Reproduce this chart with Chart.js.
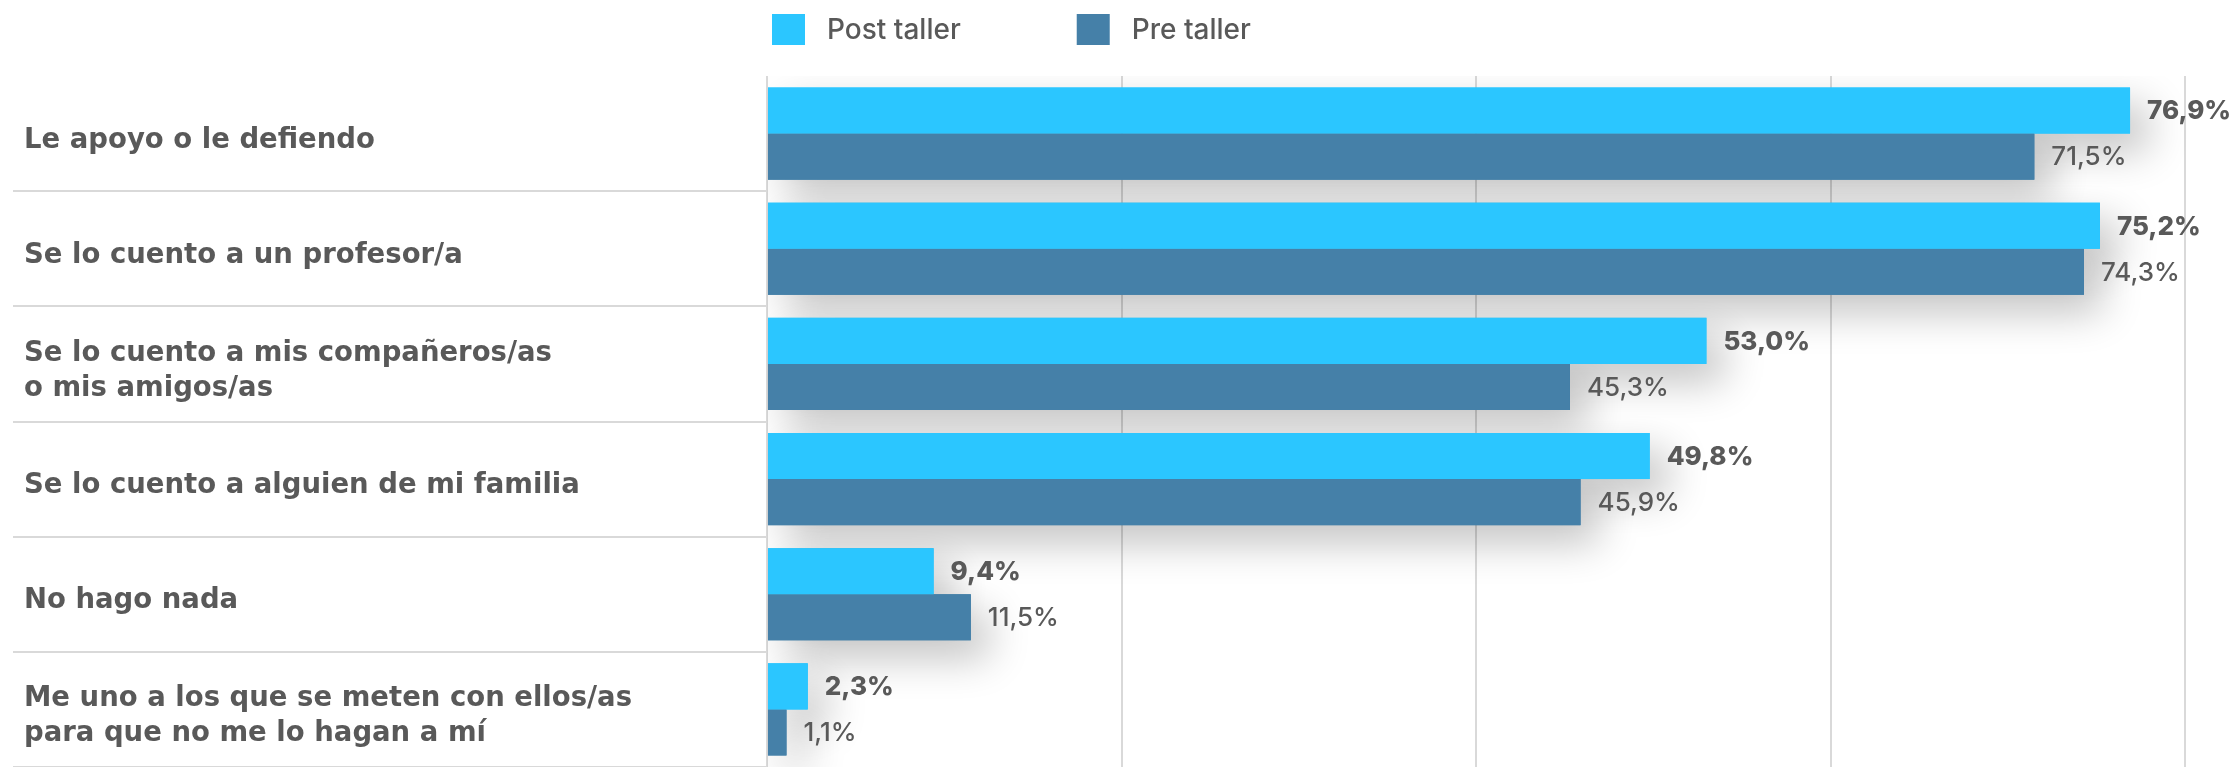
<!DOCTYPE html>
<html>
<head>
<meta charset="utf-8">
<script src="https://cdn.jsdelivr.net/npm/chart.js@4.4.1/dist/chart.umd.min.js"></script>
<style>
  html, body { margin: 0; padding: 0; background: #ffffff; }
</style>
</head>
<body>
<canvas id="myChart" width="2231" height="767"></canvas>
<script>
// data
const categories = [
  'Le apoyo o le defiendo',
  'Se lo cuento a un profesor/a',
  ['Se lo cuento a mis compañeros/as', 'o mis amigos/as'],
  'Se lo cuento a alguien de mi familia',
  'No hago nada',
  ['Me uno a los que se meten con ellos/as', 'para que no me lo hagan a mí']
];
const postTaller = [76.9, 75.2, 53.0, 49.8, 9.4, 2.3];
const preTaller = [71.5, 74.3, 45.3, 45.9, 11.5, 1.1];
const seriesNames = ['Post taller', 'Pre taller'];
const xTicks = [0, 20, 40, 60, 80];

const FONT = 'Inter';
const LABEL_FONT = '"DejaVu Sans"';
const TEXT_COLOR = '#595959';
const GRID_COLOR = '#d9d9d9';
const colors = ['#2bc6ff', '#4580a8'];

const fmt = v => v.toFixed(1).replace('.', ',') + '%';

// soft shadow under the bars
const barShadow = {
  id: 'barShadow',
  beforeDatasetsDraw(chart) {
    const ctx = chart.ctx;
    const area = chart.chartArea;
    ctx.save();
    ctx.beginPath();
    ctx.rect(area.left, area.top, area.right - area.left + 60, area.bottom - area.top);
    ctx.clip();
    ctx.shadowColor = 'rgba(0,0,0,0.24)';
    ctx.shadowBlur = 40;
    ctx.shadowOffsetX = 18;
    ctx.shadowOffsetY = 18;
    chart.data.datasets.forEach((ds, i) => {
      const meta = chart.getDatasetMeta(i);
      ctx.fillStyle = ds.backgroundColor;
      meta.data.forEach(bar => {
        const p = bar.getProps(['x', 'y', 'base', 'height'], true);
        ctx.fillRect(Math.min(p.base, p.x), p.y - p.height / 2, Math.abs(p.x - p.base), p.height);
      });
    });
    ctx.restore();
  }
};

// value labels at the end of each bar
const valueLabels = {
  id: 'valueLabels',
  afterDatasetsDraw(chart) {
    const ctx = chart.ctx;
    chart.data.datasets.forEach((ds, i) => {
      const meta = chart.getDatasetMeta(i);
      ctx.save();
      ctx.font = (i === 0 ? '800' : '500') + ' 26px ' + FONT;
      ctx.fillStyle = TEXT_COLOR;
      ctx.textBaseline = 'middle';
      ctx.textAlign = 'left';
      meta.data.forEach((bar, j) => {
        ctx.fillText(fmt(ds.data[j]), bar.x + 17, bar.y + 1);
      });
      ctx.restore();
    });
  }
};

// legend above the plot, starting at the plot's left edge
const topLegend = {
  id: 'topLegend',
  afterDraw(chart) {
    const ctx = chart.ctx;
    let x = chart.chartArea.left + 5;
    const y = 30;
    ctx.save();
    ctx.font = '500 28px ' + FONT;
    ctx.textBaseline = 'middle';
    chart.data.datasets.forEach(ds => {
      ctx.fillStyle = ds.backgroundColor;
      ctx.fillRect(x, y - 16, 33, 31);
      ctx.fillStyle = TEXT_COLOR;
      ctx.fillText(ds.label, x + 55, y + 1);
      x += 55 + ctx.measureText(ds.label).width + 116;
    });
    ctx.restore();
  }
};

const ctx = document.getElementById('myChart');
new Chart(ctx, {
  type: 'bar',
  data: {
    labels: categories,
    datasets: [{
      label: seriesNames[0],
      data: postTaller,
      backgroundColor: colors[0]
    }, {
      label: seriesNames[1],
      data: preTaller,
      backgroundColor: colors[1]
    }]
  },
  options: {
    indexAxis: 'y',
    responsive: false,
    animation: false,
    layout: { padding: { left: 24, right: 46, top: 76, bottom: 0 } },
    datasets: {
      bar: { barPercentage: 1, categoryPercentage: 0.8 }
    },
    plugins: {
      legend: { display: false },
      tooltip: { enabled: false }
    },
    scales: {
      x: {
        min: 0,
        max: 80,
        afterBuildTicks: scale => { scale.ticks = xTicks.map(v => ({ value: v })); },
        afterFit: scale => { scale.height = 0; },
        ticks: { display: false },
        grid: { color: GRID_COLOR, lineWidth: 2, drawTicks: false },
        border: { display: false }
      },
      y: {
        afterFit: scale => {
          scale.width = 767 - 24;
          scale.paddingTop = 0;
          scale.paddingBottom = 0;
        },
        ticks: {
          crossAlign: 'far',
          labelOffset: 7,
          color: TEXT_COLOR,
          font: { family: LABEL_FONT, size: 27.5, weight: 'bold', lineHeight: 1.27 }
        },
        grid: {
          offset: true,
          drawOnChartArea: false,
          tickLength: 754,
          lineWidth: 2,
          color: c => (c.index === 0 ? 'rgba(0,0,0,0)' : GRID_COLOR)
        },
        border: { display: false }
      }
    }
  },
  plugins: [barShadow, valueLabels, topLegend]
});
</script>
</body>
</html>
